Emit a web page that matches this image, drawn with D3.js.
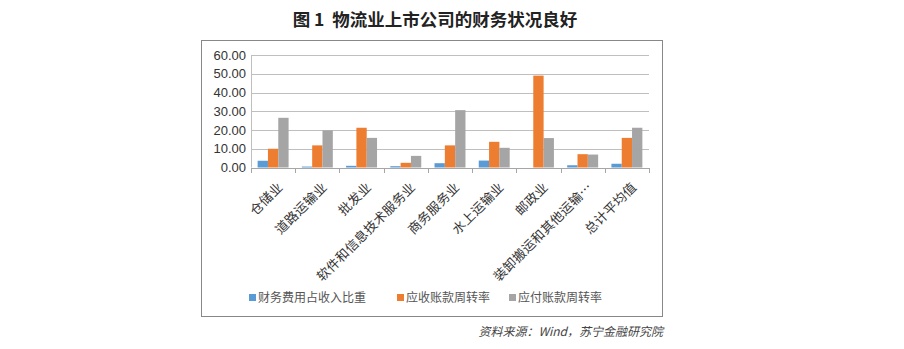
<!DOCTYPE html>
<html>
<head>
<meta charset="utf-8">
<script src="https://cdn.jsdelivr.net/npm/d3@7"></script>
<style>
  html, body { margin: 0; padding: 0; background: #fff; }
  svg { display: block; }
</style>
</head>
<body>
<svg id="chart" width="904" height="349"></svg>
<script>
// Industry categories
const categories = ["仓储业", "道路运输业", "批发业", "软件和信息技术服务业", "商务服务业",
                    "水上运输业", "邮政业", "装卸搬运和其他运输…", "总计平均值"];
// Series
const seriesNames = ["财务费用占收入比重", "应收账款周转率", "应付账款周转率"];
const financeCostRatio = [3.6, 0.5, 0.9, 0.7, 2.3, 3.7, 0.0, 1.2, 2.0];
const receivableTurnover = [10.0, 11.8, 21.2, 2.5, 11.8, 13.7, 49.0, 7.1, 15.8];
const payableTurnover = [26.5, 19.8, 15.8, 6.2, 30.6, 10.5, 15.7, 6.9, 21.2];
const yTicks = [0, 10, 20, 30, 40, 50, 60];
const colors = ["#5B9BD5", "#ED7D31", "#A5A5A5"];

const series = [financeCostRatio, receivableTurnover, payableTurnover];

const svg = d3.select("#chart");

// Title
svg.append("text")
  .attr("x", 435).attr("y", 26)
  .attr("text-anchor", "middle")
  .attr("font-family", "'Noto Sans CJK SC', sans-serif")
  .attr("font-weight", "bold")
  .attr("font-size", 17.5)
  .attr("fill", "#222")
  .style("white-space", "pre")
  .text("图 1  物流业上市公司的财务状况良好");

// Chart frame
svg.append("rect")
  .attr("x", 201.5).attr("y", 40.5)
  .attr("width", 461).attr("height", 276)
  .attr("fill", "#fff")
  .attr("stroke", "#888").attr("stroke-width", 1);

const plot = { left: 251, right: 649, top: 55, bottom: 167.5 };

const x = d3.scaleBand()
  .domain(categories)
  .range([plot.left, plot.right])
  .paddingInner(0.3)
  .paddingOuter(0.15);

const xInner = d3.scaleBand()
  .domain(d3.range(series.length))
  .range([0, x.bandwidth()]);

const y = d3.scaleLinear().domain([0, 60]).range([plot.bottom, plot.top]);

// Gridlines
svg.append("g")
  .selectAll("line")
  .data(yTicks.filter(d => d > 0))
  .join("line")
  .attr("x1", plot.left).attr("x2", plot.right)
  .attr("y1", d => Math.round(y(d)) + 0.5).attr("y2", d => Math.round(y(d)) + 0.5)
  .attr("stroke", "#BFBFBF").attr("stroke-width", 1);

// Y axis labels
const yAxis = d3.axisLeft(y).tickValues(yTicks).tickFormat(d3.format(".2f")).tickSize(0).tickPadding(5);
const gy = svg.append("g").attr("transform", `translate(${plot.left},0)`).call(yAxis);
gy.select(".domain").remove();
gy.selectAll("text")
  .attr("font-family", "'Liberation Sans', Arial, sans-serif")
  .attr("font-size", 13)
  .attr("fill", "#333");

// Vertical y-axis line
svg.append("line")
  .attr("x1", plot.left + 0.5).attr("x2", plot.left + 0.5)
  .attr("y1", plot.top).attr("y2", plot.bottom)
  .attr("stroke", "#BFBFBF");

// Bars
series.forEach((vals, si) => {
  svg.append("g")
    .selectAll("rect")
    .data(vals)
    .join("rect")
    .attr("x", (d, i) => x(categories[i]) + xInner(si))
    .attr("y", d => y(d))
    .attr("width", xInner.bandwidth())
    .attr("height", d => y(0) - y(d))
    .attr("fill", colors[si]);
});

// X axis with category separators
const xAxisG = svg.append("g");
xAxisG.append("line")
  .attr("x1", plot.left).attr("x2", plot.right)
  .attr("y1", Math.round(y(0)) + 0.5).attr("y2", Math.round(y(0)) + 0.5)
  .attr("stroke", "#A6A6A6");
xAxisG.selectAll("line.tick")
  .data(d3.range(categories.length + 1))
  .join("line")
  .attr("class", "tick")
  .attr("x1", i => Math.round(plot.left + i * (plot.right - plot.left) / categories.length) + 0.5)
  .attr("x2", i => Math.round(plot.left + i * (plot.right - plot.left) / categories.length) + 0.5)
  .attr("y1", Math.round(y(0))).attr("y2", Math.round(y(0)) + 5)
  .attr("stroke", "#A6A6A6");

// Rotated category labels
xAxisG.selectAll("text")
  .data(categories)
  .join("text")
  .attr("transform", d => `translate(${x(d) + x.bandwidth() / 2 + 10.5},${y(0) + 20.5}) rotate(-45)`)
  .attr("text-anchor", "end")
  .attr("font-family", "'Noto Sans CJK SC', sans-serif")
  .attr("font-size", 13)
  .attr("letter-spacing", 0.3)
  .attr("fill", "#333")
  .text(d => d);

// Legend
const legendItems = [
  { name: seriesNames[0], x: 249 },
  { name: seriesNames[1], x: 397 },
  { name: seriesNames[2], x: 509 }
];
const lg = svg.append("g");
legendItems.forEach((it, i) => {
  lg.append("rect")
    .attr("x", it.x).attr("y", 294)
    .attr("width", 7).attr("height", 7)
    .attr("fill", colors[i]);
  lg.append("text")
    .attr("x", it.x + 9).attr("y", 302)
    .attr("font-family", "'Noto Sans CJK SC', sans-serif")
    .attr("font-size", 12)
    .attr("fill", "#555")
    .text(it.name);
});

// Source note
svg.append("text")
  .attr("x", 663).attr("y", 336)
  .attr("text-anchor", "end")
  .attr("font-family", "'Noto Sans CJK SC', sans-serif")
  .attr("font-style", "italic")
  .attr("font-size", 12)
  .attr("fill", "#444")
  .text("资料来源：Wind，苏宁金融研究院");
</script>
</body>
</html>
